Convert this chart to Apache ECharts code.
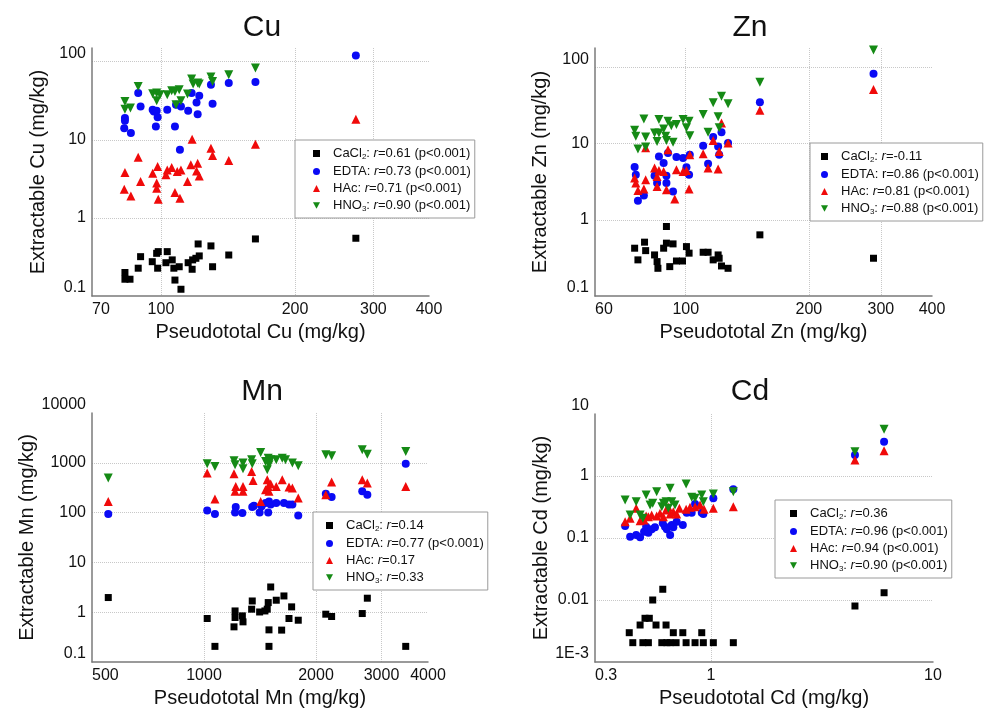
<!DOCTYPE html>
<html>
<head>
<meta charset="utf-8">
<title>Extractable vs pseudototal metals</title>
<script src="https://cdn.jsdelivr.net/npm/echarts@6.0.0/dist/echarts.min.js"></script>
<style>
  html, body { margin: 0; padding: 0; background: #fff; }
  #chart { width: 988px; height: 709px; }
</style>
</head>
<body>
<div id="chart"></div>
<script>
const FONT = '"Liberation Sans", Arial, sans-serif'

// extractants (legend order)
const extractants = ['CaCl2', 'EDTA', 'HAc', 'HNO3']

// Cu, [pseudototal, extractable] in mg/kg
const cuCaCl2 = [[83,0.2],[83,0.164],[85.2,0.164],[88.9,0.227],[90,0.319],[95.6,0.275],[97.8,0.352],[98.6,0.37],[98.3,0.227],[103.3,0.37],[102.6,0.267],[106,0.29],[106.9,0.227],[109.9,0.237],[107.5,0.16],[110.9,0.122],[115.1,0.267],[117.5,0.22],[117.8,0.29],[119.8,0.304],[121.2,0.464],[121.9,0.326],[129.5,0.438],[130.6,0.237],[142,0.335],[163,0.538],[274,0.549]]
const cuEDTA = [[83,19],[83,17.5],[82.7,14.1],[85.6,12.2],[88.9,39.7],[90,26.7],[95.8,24.2],[96.4,23],[97.8,23.5],[98.3,19.5],[97.4,14.8],[103.3,24.2],[107.5,14.8],[108.1,28.1],[110.9,26.7],[110.3,7.45],[115.1,23.5],[117.2,39.7],[120.2,30.1],[120.9,21.3],[121.9,36.6],[129.5,50.7],[130.6,29],[142,53.3],[163,55],[274,120.5]]
const cuHAc = [[83,3.81],[82.7,2.33],[85.6,1.91],[88.9,6],[90,2.92],[95.8,3.74],[97.8,2.79],[97.8,2.4],[98.3,4.55],[98.6,1.74],[102.6,3.56],[103.3,4.12],[105.7,4.42],[107.5,2.11],[108.8,3.93],[110.9,4.12],[110.3,1.79],[114.7,2.92],[116.7,4.78],[117.5,10.2],[120.2,4],[120.9,5],[121.9,3.45],[129.5,7.8],[130.6,6.3],[142,5.43],[163,8.8],[274,18.4]]
const cuHNO3 = [[83,31],[83,24.7],[85.4,25.5],[88.9,48.2],[95.8,38.9],[97.8,39.7],[97.8,31.6],[99.5,37.7],[103.3,37.7],[105.7,42.5],[107.5,41.6],[108.1,28.1],[109.9,43.8],[110.9,31.6],[114.7,38.5],[117.2,60],[118.1,51.8],[120.9,53.3],[121.9,51.8],[129.5,63.6],[130.6,55.9],[142,68.1],[163,83]]

// Zn
const znCaCl2 = [[75,0.424],[76.4,0.298],[79.3,0.509],[79.8,0.394],[83.9,0.346],[85.1,0.283],[85.5,0.231],[88.3,0.424],[89.7,0.817],[89.7,0.494],[91.4,0.243],[93.1,0.483],[94.9,0.288],[98.2,0.288],[100.4,0.445],[101.9,0.365],[110.3,0.375],[113.4,0.375],[116.7,0.298],[120,0.346],[120.7,0.313],[122.3,0.248],[126.9,0.231],[151.8,0.635],[287.8,0.313]]
const znEDTA = [[75,4.94],[75.5,3.91],[76.4,1.78],[79,2.09],[83.9,3.79],[85.1,3.04],[86,6.8],[88.3,5.57],[89.7,3.79],[89.7,3.04],[90.5,7.54],[93.1,2.36],[94.9,6.68],[98.5,6.49],[100.4,4.88],[101.9,3.91],[102.3,7.17],[110.3,9.4],[113.4,5.46],[116.7,12.2],[120,9.2],[120.7,7.17],[122.3,14.1],[126.9,10.2],[151.8,34.9],[287.8,82.6]]
const znHAc = [[75,3.54],[75.5,3.04],[76.4,2.43],[79,2.53],[79.8,3.36],[79.8,8.8],[83.9,4.79],[85.1,3.71],[85.1,2.74],[86,4.45],[88.3,4.32],[89.7,2.48],[90.5,8.34],[94,1.87],[94.9,4.55],[98.5,4.32],[100.4,4.45],[101.9,2.53],[102.3,7.17],[110.3,7.39],[113.4,4.79],[116.7,11],[120,4.65],[120.7,7.9],[122.3,18.7],[126.9,10.2],[151.8,27.4],[287.8,51.4]]
const znHNO3 = [[75,15],[75.5,12.5],[76.4,8.5],[79,21.1],[79.8,12.2],[79.8,9.05],[83.9,13.8],[85.1,10.7],[86,20.7],[86,13.8],[88.3,15.6],[89.3,12.5],[89.7,11],[90.5,19.7],[92.2,17.2],[93.1,10.4],[94.9,17.8],[98.5,20.7],[100.4,16.1],[101.9,19.7],[102.3,12.7],[110.3,24.1],[113.4,14.1],[116.7,34.3],[120,22.5],[120.7,16.1],[122.3,41.9],[126.9,33.3],[151.8,64],[287.8,169]]

// Mn
const mnCaCl2 = [[553,1.97],[1020,0.748],[1070,0.206],[1212,1.06],[1212,0.783],[1268,0.844],[1204,0.508],[1273,0.64],[1348,1.68],[1343,1.15],[1411,1.01],[1458,1.06],[1479,1.15],[1488,1.56],[1511,3.21],[1495,0.442],[1495,0.206],[1564,1.74],[1640,2.12],[1720,1.28],[1692,0.748],[1792,0.69],[1617,0.437],[2125,0.912],[2203,0.82],[2663,0.94],[2748,1.91],[3485,0.206]]
const mnEDTA = [[553,94.2],[1020,110],[1070,94],[1212,101],[1217,130],[1268,98.7],[1348,130],[1362,138],[1411,101],[1429,134],[1464,156],[1488,101],[1495,168],[1511,145],[1564,156],[1640,156],[1692,145],[1728,145],[1792,87],[2125,240],[2203,206],[2663,267],[2748,229],[3485,955]]
const mnHAc = [[553,168],[1020,622],[1070,188],[1204,603],[1212,267],[1217,336],[1273,336],[1273,267],[1343,670],[1355,443],[1420,168],[1464,288],[1479,457],[1488,336],[1495,267],[1511,375],[1564,336],[1623,457],[1692,327],[1728,311],[1792,197],[2125,229],[2203,411],[2663,457],[2748,393],[3485,336]]
const mnHNO3 = [[553,494],[1020,955],[1070,843],[1204,1096],[1212,912],[1273,759],[1273,986],[1343,1148],[1348,955],[1420,1607],[1464,1062],[1479,724],[1488,1241],[1495,912],[1511,1148],[1564,1148],[1623,1241],[1656,1148],[1728,986],[1792,871],[2125,1445],[2203,1380],[2663,1820],[2748,1493],[3485,1683]]

// Cd
const cdCaCl2 = [[0.428,0.00297],[0.444,0.00205],[0.479,0.00395],[0.493,0.00205],[0.504,0.00507],[0.522,0.00205],[0.527,0.00507],[0.546,0.01],[0.565,0.00395],[0.6,0.00205],[0.606,0.0149],[0.627,0.00395],[0.632,0.00205],[0.654,0.00205],[0.676,0.00297],[0.696,0.00205],[0.746,0.00297],[0.772,0.00205],[0.847,0.00205],[0.908,0.00297],[0.923,0.00205],[1.024,0.00205],[1.26,0.00205],[4.45,0.008],[6.02,0.0131]]
const cdEDTA = [[0.41,0.156],[0.432,0.105],[0.46,0.112],[0.479,0.103],[0.499,0.126],[0.51,0.152],[0.522,0.122],[0.54,0.138],[0.559,0.149],[0.606,0.173],[0.62,0.152],[0.632,0.138],[0.654,0.112],[0.665,0.162],[0.676,0.149],[0.7,0.183],[0.746,0.162],[0.777,0.256],[0.818,0.256],[0.847,0.354],[0.908,0.256],[0.923,0.244],[1.024,0.436],[1.26,0.61],[4.45,2.18],[6.02,3.57]]
const cdHAc = [[0.41,0.183],[0.432,0.208],[0.46,0.302],[0.479,0.19],[0.499,0.196],[0.51,0.227],[0.522,0.22],[0.54,0.235],[0.569,0.227],[0.589,0.25],[0.61,0.22],[0.627,0.283],[0.642,0.313],[0.654,0.244],[0.676,0.266],[0.7,0.244],[0.72,0.302],[0.772,0.29],[0.804,0.313],[0.847,0.32],[0.892,0.34],[0.93,0.29],[1.024,0.302],[1.26,0.32],[4.45,1.81],[6.02,2.56]]
const cdHNO3 = [[0.41,0.41],[0.432,0.235],[0.46,0.385],[0.479,0.235],[0.493,0.208],[0.51,0.494],[0.531,0.34],[0.546,0.363],[0.569,0.558],[0.6,0.32],[0.61,0.363],[0.627,0.385],[0.642,0.302],[0.654,0.633],[0.665,0.385],[0.688,0.34],[0.772,0.743],[0.818,0.453],[0.847,0.436],[0.908,0.494],[0.923,0.385],[1.024,0.513],[1.26,0.558],[4.45,2.47],[6.02,5.66]]

// correlation coefficients shown in the legends, and whether p<0.001
const cuR = ['0.61', '0.73', '0.71', '0.90']
const cuSig = [true, true, true, true]
const znR = ['-0.11', '0.86', '0.81', '0.88']
const znSig = [false, true, true, true]
const mnR = ['0.14', '0.77', '0.17', '0.33']
const mnSig = [false, true, false, false]
const cdR = ['0.36', '0.96', '0.94', '0.90']
const cdSig = [false, true, true, true]

// axis tick labels
const cuXTicks = [70, 100, 200, 300, 400]
const cuYTicks = [0.1, 1, 10, 100]
const znXTicks = [60, 100, 200, 300, 400]
const znYTicks = [0.1, 1, 10, 100]
const mnXTicks = [500, 1000, 2000, 3000, 4000]
const mnYTicks = [0.1, 1, 10, 100, 1000, 10000]
const cdXTicks = [0.3, 1, 10]
const cdYTicks = [0.001, 0.01, 0.1, 1, 10]

const panels = [
  { metal: 'Cu', series: [cuCaCl2, cuEDTA, cuHAc, cuHNO3], r: cuR, sig: cuSig,
    xRange: [70, 400], yRange: [0.1, 150], xTicks: cuXTicks, yTicks: cuYTicks,
    xGrid: [100, 200, 300], yGrid: [1, 10, 100],
    grid: { left: 92, top: 48, width: 337, height: 248 },
    legend: { left: 295, top: 140, padL: 18 }, title: [262, 28], yNameGap: 44 },
  { metal: 'Zn', series: [znCaCl2, znEDTA, znHAc, znHNO3], r: znR, sig: znSig,
    xRange: [60, 400], yRange: [0.1, 180], xTicks: znXTicks, yTicks: znYTicks,
    xGrid: [100, 200, 300], yGrid: [1, 10, 100],
    grid: { left: 595, top: 48, width: 337, height: 248 },
    legend: { left: 810, top: 143, padL: 11 }, title: [750, 28], yNameGap: 45,
    uprightR: [1] },
  { metal: 'Mn', series: [mnCaCl2, mnEDTA, mnHAc, mnHNO3], r: mnR, sig: mnSig,
    xRange: [500, 4000], yRange: [0.1, 10000], xTicks: mnXTicks, yTicks: mnYTicks,
    xGrid: [1000, 2000, 3000], yGrid: [1, 10, 100, 1000],
    grid: { left: 92, top: 413, width: 336, height: 250 },
    legend: { left: 313, top: 512, padL: 13 }, title: [262, 392], yNameGap: 44 },
  { metal: 'Cd', series: [cdCaCl2, cdEDTA, cdHAc, cdHNO3], r: cdR, sig: cdSig,
    xRange: [0.3, 10], yRange: [0.001, 10], xTicks: cdXTicks, yTicks: cdYTicks,
    xGrid: [1], yGrid: [0.01, 0.1, 1],
    grid: { left: 595, top: 414, width: 338, height: 248 },
    legend: { left: 775, top: 500, padL: 15 }, title: [750, 392], yNameGap: 42 },
]

const markerStyle = {
  CaCl2: { symbol: 'rect', size: 7, rotate: 0, color: '#000000', icon: 'rect' },
  EDTA: { symbol: 'circle', size: 8, rotate: 0, color: '#0a0af5', icon: 'circle' },
  HAc: { symbol: 'triangle', size: 9, rotate: 0, color: '#f00a0a', icon: 'triangle' },
  HNO3: { symbol: 'triangle', size: 9, rotate: 180, color: '#158a15', icon: 'path://M0,0L10,0L5,9Z' },
}

const chemLabel = {
  CaCl2: '{t|CaCl}{s|2}',
  EDTA: '{t|EDTA}',
  HAc: '{t|HAc}',
  HNO3: '{t|HNO}{s|3}',
}

function tickFormatter(v) {
  if (Math.abs(v - 0.001) < 1e-9) return '1E-3'
  return String(+v.toPrecision(6))
}

const axisLine = { show: true, onZero: false, lineStyle: { color: '#7a7a7a', width: 1.5 } }
const splitLine = { show: true, lineStyle: { color: '#c8c8c8', type: 'dotted', width: 1 } }

const option = {
  animation: false,
  backgroundColor: '#fff',
  textStyle: { fontFamily: FONT },
  grid: [],
  xAxis: [],
  yAxis: [],
  legend: [],
  series: [],
  graphic: [],
}

panels.forEach((p, i) => {
  option.grid.push(p.grid)
  option.xAxis.push({
    type: 'log', logBase: 10, gridIndex: i, min: p.xRange[0], max: p.xRange[1],
    name: 'Pseudototal ' + p.metal + ' (mg/kg)', nameLocation: 'middle', nameGap: 26,
    nameTextStyle: { fontSize: 20, color: '#111', fontFamily: FONT },
    axisLine,
    axisTick: { show: false, customValues: p.xGrid },
    axisLabel: { customValues: p.xTicks, fontSize: 16, color: '#111', margin: 6,
      alignMinLabel: 'left', formatter: tickFormatter },
    splitLine,
  })
  option.yAxis.push({
    type: 'log', logBase: 10, gridIndex: i, min: p.yRange[0], max: p.yRange[1],
    name: 'Extractable ' + p.metal + ' (mg/kg)', nameLocation: 'middle', nameGap: p.yNameGap,
    nameTextStyle: { fontSize: 20, color: '#111', fontFamily: FONT },
    axisLine,
    axisTick: { show: false, customValues: p.yGrid },
    axisLabel: { customValues: p.yTicks, fontSize: 16, color: '#111', margin: 6,
      verticalAlignMinLabel: 'bottom', verticalAlignMaxLabel: 'bottom', formatter: tickFormatter },
    splitLine,
  })

  extractants.forEach((name, k) => {
    const m = markerStyle[name]
    option.series.push({
      type: 'scatter', name, xAxisIndex: i, yAxisIndex: i,
      symbol: m.symbol, symbolSize: m.size, symbolRotate: m.rotate,
      itemStyle: { color: m.color, opacity: 1 },
      data: p.series[k],
    })
  })

  option.legend.push({
    orient: 'vertical', left: p.legend.left, top: p.legend.top,
    data: extractants.map(name => ({
      name,
      icon: markerStyle[name].icon,
      itemStyle: { color: markerStyle[name].color, opacity: 1 },
    })),
    padding: [7, 4, 5, p.legend.padL],
    itemWidth: 7, itemHeight: 7, itemGap: 4,
    backgroundColor: '#fff', borderColor: '#9a9a9a', borderWidth: 1,
    selectedMode: false,
    formatter: (name) => {
      const k = extractants.indexOf(name)
      const rTok = p.uprightR && p.uprightR.includes(k) ? '{t|r}' : '{i|r}'
      return '{g|}' + chemLabel[name] + '{t|: }' + rTok + '{t|=' + p.r[k] + (p.sig[k] ? ' (p<0.001)' : '') + '}'
    },
    textStyle: {
      fontSize: 13, color: '#111', fontFamily: FONT,
      rich: {
        g: { width: 8, lineHeight: 15 },
        t: { fontSize: 13, lineHeight: 15, color: '#111', fontFamily: FONT },
        i: { fontSize: 13, lineHeight: 15, fontStyle: 'italic', color: '#111', fontFamily: FONT },
        s: { fontSize: 8, lineHeight: 15, verticalAlign: 'bottom', color: '#111', fontFamily: FONT },
      },
    },
  })

  option.graphic.push({
    type: 'text', x: p.title[0], y: p.title[1],
    style: { text: p.metal, fontSize: 30, fontFamily: FONT, fill: '#111',
      textAlign: 'center', textVerticalAlign: 'middle' },
  })
})

const chart = echarts.init(document.getElementById('chart'))
chart.setOption(option)
window.addEventListener('resize', () => chart.resize())
</script>
</body>
</html>
